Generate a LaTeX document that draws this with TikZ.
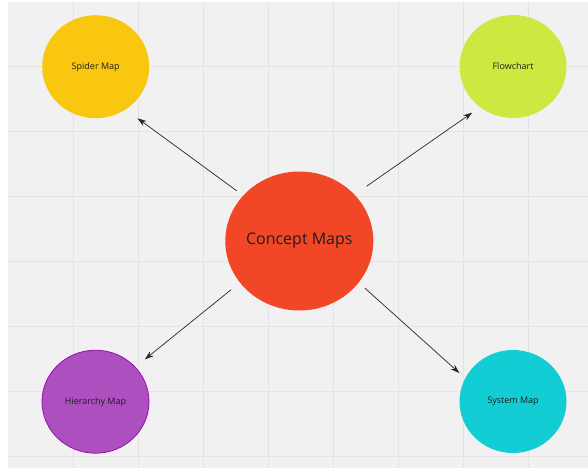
\documentclass[tikz,border=0pt]{standalone}
\usepackage{fontspec}
\setmainfont{Open Sans}
\usepackage{tikz}
\usetikzlibrary{shapes.geometric,arrows.meta}

\definecolor{boardgray}{HTML}{F1F1F1}
\definecolor{gridgray}{HTML}{E3E3E3}
\definecolor{spideryellow}{HTML}{FAC710}
\definecolor{flowgreen}{HTML}{CEE741}
\definecolor{conceptred}{HTML}{F24726}
\definecolor{hierpurple}{HTML}{AE4FC0}
\definecolor{hieredge}{HTML}{9510AC}
\definecolor{systemcyan}{HTML}{12CDD4}
\definecolor{inkgray}{HTML}{1E1E1E}

\tikzset{
  bubble/.style={ellipse, inner sep=0pt, text=inkgray, font=\fontsize{9}{10}\selectfont,
    minimum width=107pt, minimum height=103pt},
  link/.style={-{Stealth[length=9pt,width=6pt]}, line width=0.7pt, black!85}
}

\begin{document}
\begin{tikzpicture}[x=1pt,y=-1pt]
\useasboundingbox (0,0) rectangle (588,468);
\fill[white] (0,0) rectangle (588,468);
\fill[boardgray] (8,2) rectangle (588,468);

\foreach \x in {73.3,138.3,...,530} \draw[gridgray, line width=0.8pt] (\x,2) -- (\x,468);
\foreach \y in {66.7,131.7,...,460} \draw[gridgray, line width=0.8pt] (8,\y) -- (588,\y);

\node[bubble, fill=conceptred, minimum width=148pt, minimum height=139pt,
  font=\fontsize{16}{19}\selectfont] (concept) at (299.3,241) {\makebox[0pt]{Concept Maps}};

\node[bubble, fill=spideryellow] (spider) at (95.7,66.7) {\makebox[0pt]{Spider Map}};
\node[bubble, fill=flowgreen] (flow) at (513,66.5) {\makebox[0pt]{Flowchart}};
\node[bubble, fill=hierpurple, draw=hieredge, line width=0.8pt] (hier) at (95.5,401.7) {\makebox[0pt]{Hierarchy Map}};
\node[bubble, fill=systemcyan] (system) at (513,401.5) {\makebox[0pt]{System Map}};

\draw[link, shorten <=8pt, shorten >=14.7pt] (concept.141) -- (spider.-55.3);
\draw[link, shorten <=14.5pt, shorten >=9.5pt] (concept.40.8) -- (flow.-129.7);
\draw[link, shorten <=11.2pt, shorten >=12pt] (concept.-145.9) -- (hier.41.8);
\draw[link, shorten <=8.3pt, shorten >=7.7pt] (concept.-35.7) -- (system.154.4);

\end{tikzpicture}
\end{document}
